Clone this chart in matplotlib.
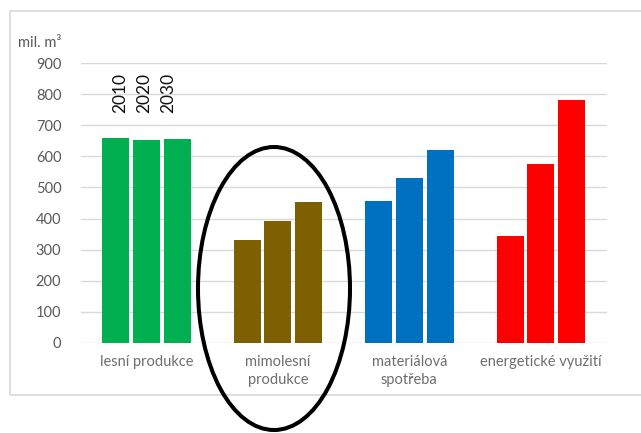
import matplotlib
matplotlib.use("Agg")
import matplotlib.pyplot as plt
import numpy as np
from matplotlib.patches import Ellipse, Rectangle

plt.rcParams['font.family'] = ['Lato', 'DejaVu Sans']

categories = ["lesní produkce", "mimolesní\nprodukce", "materiálová\nspotřeba", "energetické využití"]
years = ["2010", "2020", "2030"]
values = [
    [660, 330, 457, 345],   # 2010
    [653, 392, 530, 575],   # 2020
    [656, 452, 621, 782],   # 2030
]
colors = ["#00B050", "#7F6000", "#0070C0", "#FF0000"]
yticks = [0, 100, 200, 300, 400, 500, 600, 700, 800, 900]

fig = plt.figure(figsize=(6.41, 4.33), dpi=100)
ax = fig.add_axes([0.1259, 0.2085, 0.8203, 0.6453])

x = np.arange(len(categories))
step = 0.2336
width = 0.2055
for i, yr in enumerate(years):
    ax.bar(x + (i - 1) * step, values[i], width=width, color=colors, zorder=3)

ax.set_xlim(-0.5, 3.5)
ax.set_ylim(0, 900)
ax.set_yticks(yticks)
ax.set_xticks(x)
ax.set_xticklabels(categories, linespacing=1.3)
ax.tick_params(axis='y', length=0, colors="#595959", labelsize=10.5, pad=14)
ax.tick_params(axis='x', length=0, colors="#6E6E6E", labelsize=10.5, pad=9)
ax.grid(axis='y', color="#D9D9D9", linewidth=1.0, zorder=0)
for s in ax.spines.values():
    s.set_visible(False)

# white box behind the year labels
ax.add_patch(Rectangle((-0.35, 740), 0.755, 180, facecolor="white",
                       edgecolor="none", zorder=1, clip_on=False))
for dx, yr in zip([-0.2, -0.015, 0.165], years):
    ax.text(dx, 805, yr, rotation=90, ha='center', va='center',
            fontsize=12.5, color="#111111", zorder=4)

fig.text(18 / 641, 1 - 43 / 433, "mil. m³", ha='left', va='center',
         fontsize=10.5, color="#595959")

# outer chart frame
fig.patches.append(Rectangle((10 / 641, 1 - 395 / 433), 0.99, 384.5 / 433,
                             transform=fig.transFigure, facecolor="none",
                             edgecolor="#D9D9D9", linewidth=1.2, zorder=0))

# highlight around the second group
fig.patches.append(Ellipse((274 / 641, 1 - 288.5 / 433), 152 / 641, 283 / 433,
                           transform=fig.transFigure, facecolor="none",
                           edgecolor="black", linewidth=2.9, zorder=10))

fig.savefig("out.png", dpi=100)
